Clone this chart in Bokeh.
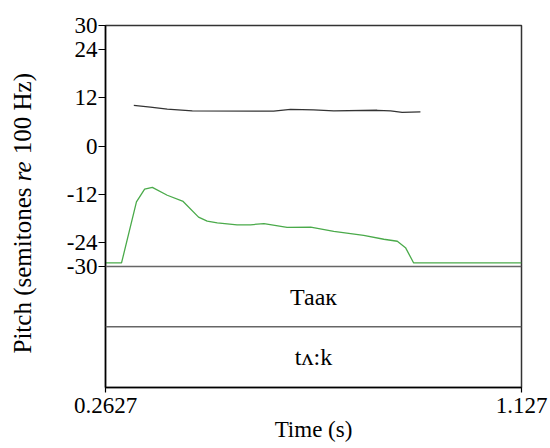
import math
from bokeh.plotting import figure
from bokeh.layouts import row
from bokeh.models import FixedTicker, Label, Span, Range1d
from bokeh.embed import file_html
from bokeh.resources import INLINE

# ---- data ----
x_start, x_end = 0.2627, 1.127
y_min, y_max = -60.1, 30
y_ticks = [30, 24, 12, 0, -12, -24, -30]
y_tick_labels = ["30", "24", "12", "0", "-12", "-24", "-30"]

black_t = [0.3215, 0.356, 0.391, 0.443, 0.585, 0.612, 0.647, 0.695, 0.737, 0.827, 0.855, 0.879, 0.917]
black_v = [10.1, 9.7, 9.2, 8.75, 8.7, 8.7, 9.1, 9.0, 8.75, 8.9, 8.75, 8.4, 8.5]

green_t = [0.2627, 0.296, 0.327, 0.344, 0.360, 0.391, 0.424, 0.456, 0.474, 0.495, 0.536, 0.564,
           0.592, 0.640, 0.689, 0.737, 0.799, 0.841, 0.869, 0.886, 0.903, 1.127]
green_v = [-29.1, -29.1, -13.9, -10.75, -10.3, -12.25, -13.8, -17.7, -18.7, -19.1, -19.6, -19.6,
           -19.3, -20.25, -20.2, -21.25, -22.25, -23.2, -23.7, -25.3, -29.1, -29.1]

tier_bounds = [-30, -45]
tier_labels = ["Таак", "tʌ:k"]
tier_centers = [-37.5, -52.5]

y_label_pieces = ["Pitch (semitones", "re", "100 Hz)"]
y_label_styles = ["normal", "italic", "normal"]

FONT = "Liberation Serif"
W, H, LW = 550, 448, 50
TOP, BOTTOM = 25, 61

# ---- main plot ----
p = figure(width=W - LW, height=H, output_backend="svg", toolbar_location=None,
           x_range=Range1d(x_start, x_end), y_range=Range1d(y_min, y_max),
           min_border_left=105 - LW, min_border_right=29, min_border_top=TOP, min_border_bottom=BOTTOM)
p.xgrid.visible = False
p.ygrid.visible = False
p.outline_line_color = "#333333"
p.outline_line_width = 1.5
p.background_fill_color = "white"
p.border_fill_color = "white"

p.yaxis.ticker = FixedTicker(ticks=y_ticks)
p.yaxis.major_label_overrides = {t: s for t, s in zip(y_ticks, y_tick_labels)}
p.xaxis.ticker = FixedTicker(ticks=[x_start, x_end])
p.xaxis.major_label_overrides = {x_start: "0.2627", x_end: "1.127"}
for ax in (p.xaxis[0], p.yaxis[0]):
    ax.axis_line_color = "black"
    ax.axis_line_width = 1.5
    ax.major_tick_line_color = "black"
    ax.major_tick_line_width = 1.2
    ax.minor_tick_line_color = None
    ax.major_tick_in = 0
    ax.major_label_text_font = FONT
    ax.major_label_text_font_size = "23px"
    ax.major_label_text_color = "black"
p.yaxis.major_tick_out = 7
p.yaxis.major_label_standoff = 1
p.xaxis.major_tick_out = 5
p.xaxis.major_label_standoff = 5
p.xaxis.axis_label = "Time (s)"
p.xaxis.axis_label_text_font = FONT
p.xaxis.axis_label_text_font_style = "normal"
p.xaxis.axis_label_text_font_size = "23px"
p.xaxis.axis_label_text_color = "black"
p.xaxis.axis_label_standoff = 1

for b in tier_bounds:
    p.add_layout(Span(location=b, dimension="width", line_color="#666666", line_width=1.5))

p.line(black_t, black_v, line_color="#333333", line_width=1.3)
p.line(green_t, green_v, line_color="#4aaa4a", line_width=1.3)

mid_t = (x_start + x_end) / 2
for lab, c in zip(tier_labels, tier_centers):
    p.add_layout(Label(x=mid_t, y=c, text=lab, text_align="center", text_baseline="middle",
                       text_font=FONT, text_font_size="24px", text_color="black"))

# ---- narrow left strip holding the rotated y-axis title (italic "re") ----
lf = figure(width=LW, height=H, output_backend="svg", toolbar_location=None,
            x_range=Range1d(0, LW), y_range=Range1d(y_min, y_max),
            x_axis_type=None, y_axis_type=None,
            min_border_left=0, min_border_right=0, min_border_top=TOP, min_border_bottom=BOTTOM)
lf.outline_line_color = None
lf.xgrid.visible = False
lf.ygrid.visible = False
lf.background_fill_color = "white"
lf.border_fill_color = "white"

frame_h = H - TOP - BOTTOM
def screen_to_v(sy):
    return y_max - (sy - TOP) * (y_max - y_min) / frame_h

fs = 25
start_sy = 353
offsets_em = [0.0, 6.889, 7.972]
for txt, style, off in zip(y_label_pieces, y_label_styles, offsets_em):
    lf.add_layout(Label(x=22, y=screen_to_v(start_sy - off * fs), text=txt, angle=math.pi / 2,
                        text_align="left", text_baseline="middle",
                        text_font=FONT, text_font_size=f"{fs}px", text_font_style=style,
                        text_color="black"))

layout = row(lf, p, spacing=0)
open("out.html", "w").write(file_html(layout, INLINE))
